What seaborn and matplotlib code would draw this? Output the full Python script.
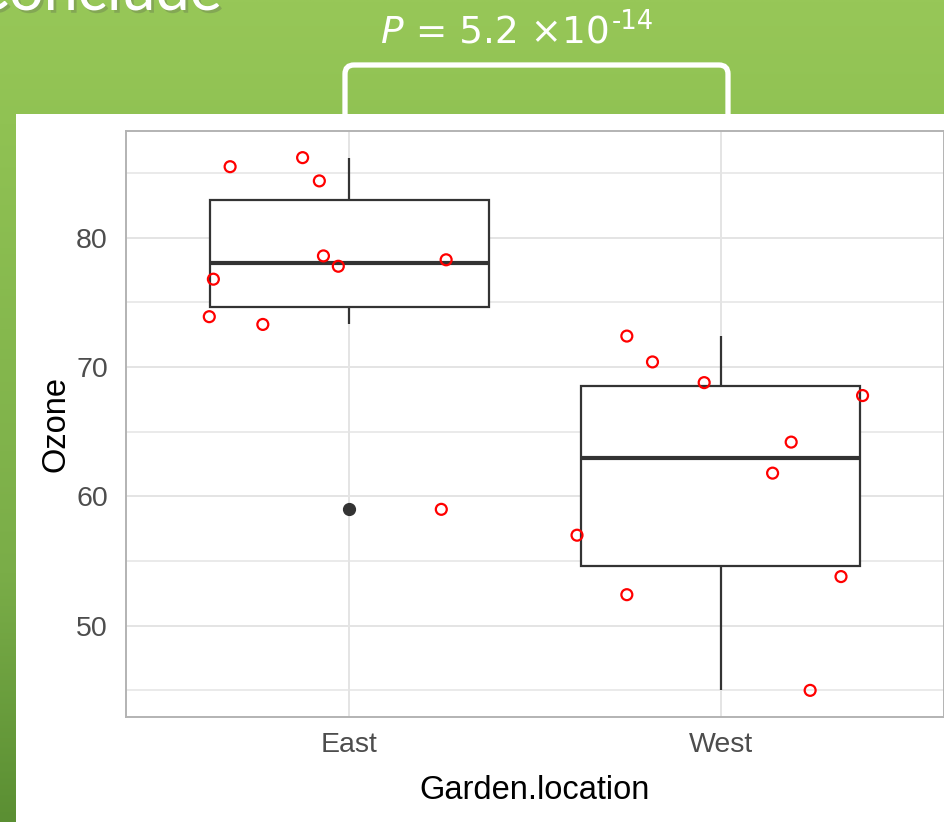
import matplotlib
matplotlib.use("Agg")
import numpy as np
import pandas as pd
import matplotlib.pyplot as plt
import matplotlib.colors as mcolors
import matplotlib.patheffects as pe
import seaborn as sns
from matplotlib.path import Path
from matplotlib.patches import PathPatch, Rectangle

# ---------------- data ----------------
locations = ["East", "West"]
east_ozone = [85.5, 86.2, 84.4, 76.8, 73.9, 73.3, 78.6, 77.8, 78.3, 59.0]
west_ozone = [72.4, 70.4, 68.8, 67.8, 64.2, 61.8, 57.0, 52.4, 53.8, 45.0]
# horizontal jitter of each observation (in category units)
east_jitter = [-0.32, -0.125, -0.08, -0.365, -0.376, -0.232, -0.069, -0.029, 0.261, 0.248]
west_jitter = [-0.253, -0.184, -0.045, 0.381, 0.189, 0.139, -0.387, -0.253, 0.323, 0.24]
y_major = [50, 60, 70, 80]
y_minor = [45, 55, 65, 75, 85]
p_italic, p_main, p_exp = "P", " = 5.2 \u00d710", "-14"
slide_title = "Conclude"

df = pd.DataFrame({
    "Garden.location": ["East"] * len(east_ozone) + ["West"] * len(west_ozone),
    "Ozone": east_ozone + west_ozone,
    "jitter": east_jitter + west_jitter,
})
cat_index = {c: i for i, c in enumerate(locations)}
df["xpos"] = df["Garden.location"].map(cat_index) + df["jitter"]

# ---------------- figure ----------------
sns.set_style("white")
plt.rcParams["font.family"] = ["Liberation Sans", "DejaVu Sans"]

W, H = 945, 822
fig = plt.figure(figsize=(W / 100, H / 100), dpi=100)


def fx(px):
    return px / W


def fy(py):
    return 1 - py / H


# green slide background
bg = fig.add_axes([0, 0, 1, 1], zorder=-10)
bg_cmap = mcolors.LinearSegmentedColormap.from_list(
    "slide", [(0.0, "#97C758"), (0.15, "#90C253"), (0.7, "#7AAD48"), (1.0, "#5B8F33")])
grad = np.linspace(0, 1, 400)[:, None] * np.ones((1, 50))
bg.imshow(grad, cmap=bg_cmap, aspect="auto", extent=[0, 1, 0, 1], origin="upper")
bg.set_axis_off()

# slide title, running off the top edge
fig.text(fx(222), fy(10), slide_title, ha="right", va="baseline", fontsize=44,
         color="white", family=["Lato", "DejaVu Sans"], zorder=-4,
         path_effects=[pe.SimplePatchShadow(offset=(2, -2), alpha=0.25), pe.Normal()])

# comparison bracket
xl, xr, yt, yb, r = 345, 728, 65, 120, 9
verts = [(xl, yb), (xl, yt + r), (xl, yt), (xl + r, yt), (xr - r, yt), (xr, yt), (xr, yt + r), (xr, yb)]
codes = [Path.MOVETO, Path.LINETO, Path.CURVE3, Path.CURVE3, Path.LINETO, Path.CURVE3, Path.CURVE3, Path.LINETO]
bracket = PathPatch(Path([(fx(a), fy(b)) for a, b in verts], codes), fill=False,
                    edgecolor="white", linewidth=3.8, capstyle="butt",
                    transform=fig.transFigure, zorder=-6)
fig.add_artist(bracket)

# p-value label
renderer = fig.canvas.get_renderer()
p_font = dict(family=["DejaVu Sans"], color="white", fontsize=27, va="baseline")
x0, base = 381, 43
t1 = fig.text(fx(x0), fy(base), p_italic, style="italic", **p_font)
w1 = t1.get_window_extent(renderer).width
t2 = fig.text(fx(x0 + w1), fy(base), p_main, **p_font)
w2 = t2.get_window_extent(renderer).width
fig.text(fx(x0 + w1 + w2 + 2), fy(29), p_exp, **{**p_font, "fontsize": 18.5})

# white content panel
fig.add_artist(Rectangle((fx(16), 0), 1 - fx(16), fy(114), transform=fig.transFigure,
                         facecolor="white", edgecolor="none", zorder=-5))

# ---------------- chart ----------------
ax = fig.add_axes([fx(126), fy(717), fx(944) - fx(126), fy(131) - fy(717)], zorder=2)
ax.set_facecolor("white")

line_col = "#333333"
sns.boxplot(data=df, x="Garden.location", y="Ozone", order=locations, ax=ax,
            width=0.75, whis=1.5, color="white", saturation=1, linecolor=line_col,
            linewidth=1.6, fliersize=8.5,
            flierprops=dict(marker="o", markerfacecolor=line_col, markeredgecolor=line_col),
            medianprops=dict(linewidth=3.0, color=line_col),
            capprops=dict(linewidth=0))

sns.scatterplot(data=df, x="xpos", y="Ozone", ax=ax, marker="o", s=62,
                facecolor="none", edgecolor="#FF0000", linewidth=1.6, zorder=5, legend=False)

ax.set_xlim(-0.6, 1.6)
ax.set_ylim(42.94, 88.26)
ax.set_xticks(range(len(locations)), locations)
ax.set_yticks(y_major)
ax.set_yticks(y_minor, minor=True)

grid_col = "#E4E4E4"
ax.set_axisbelow(True)
ax.yaxis.grid(True, which="major", color=grid_col, linewidth=1.4)
ax.yaxis.grid(True, which="minor", color=grid_col, linewidth=1.1)
ax.xaxis.grid(True, which="major", color=grid_col, linewidth=1.4)

for s in ax.spines.values():
    s.set_visible(True)
    s.set_color("#B3B3B3")
    s.set_linewidth(1.4)

ax.tick_params(which="major", length=7, width=1.3, color="#B3B3B3",
               labelsize=20.5, labelcolor="#4D4D4D")
ax.tick_params(axis="y", pad=6)
ax.tick_params(axis="x", pad=4)
ax.tick_params(which="minor", length=0)

ax.set_xlabel("Garden.location", fontsize=23.5, color="black", va="center")
ax.set_ylabel("Ozone", fontsize=23.5, color="black", va="center")
ax.xaxis.set_label_coords(0.5, -(790 - 717) / (717 - 131))
ax.yaxis.set_label_coords(-(126 - 56) / (944 - 126), 0.5)

fig.savefig("out.png", dpi=100)
